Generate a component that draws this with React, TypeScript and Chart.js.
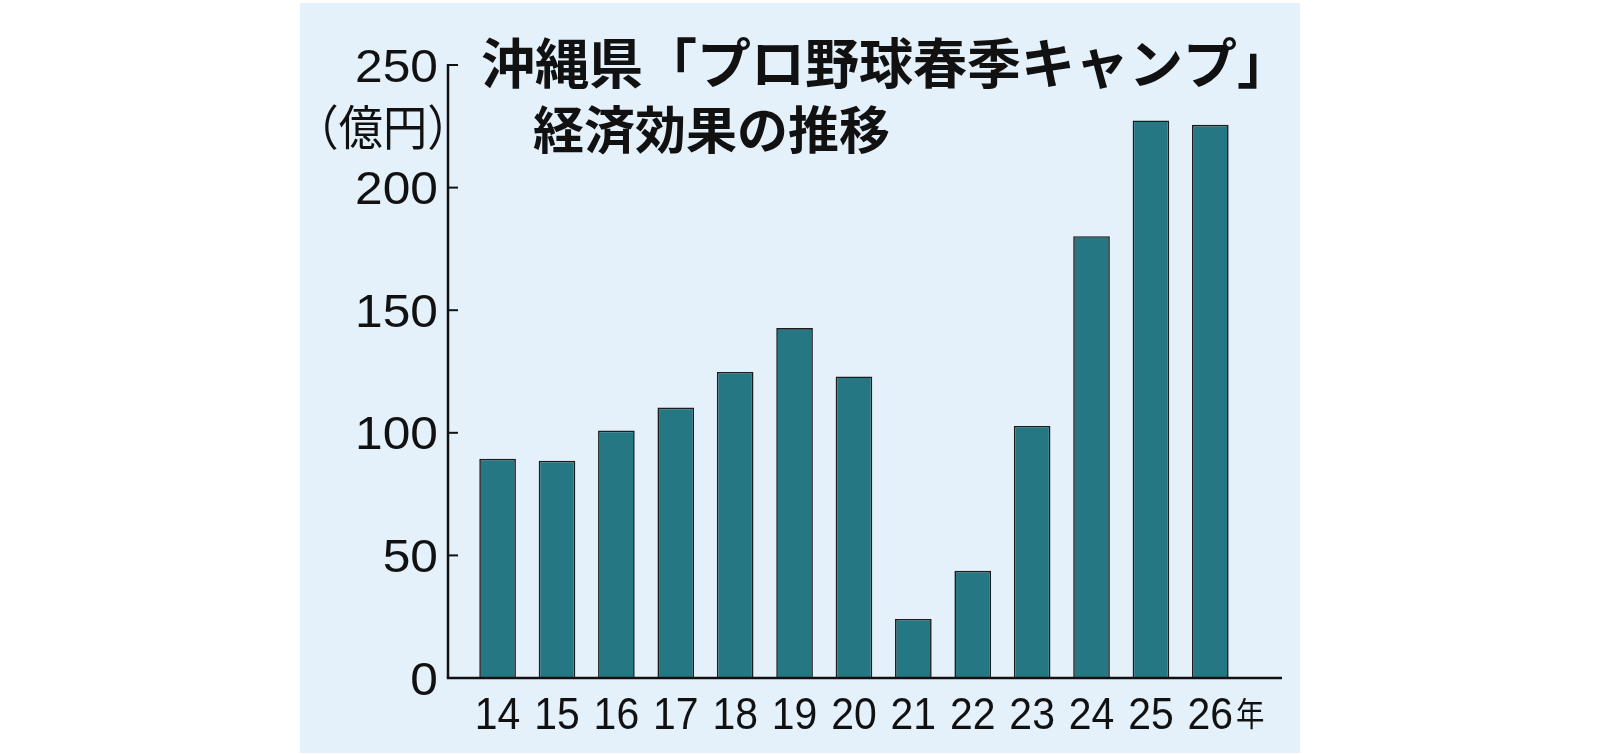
import React, { useEffect, useRef } from 'react';
import { Chart, registerables } from 'chart.js';

Chart.register(...registerables);

// ---- data ----
const years = [14, 15, 16, 17, 18, 19, 20, 21, 22, 23, 24, 25, 26];
const values = [89.4, 88.6, 100.9, 110.3, 124.8, 142.7, 123.0, 24.1, 43.7, 102.8, 180.2, 227.4, 225.6];
const yTicks = [0, 50, 100, 150, 200, 250];
const yearSuffix = '年';
const unitLabel = '（億円）';
const titleLine1 = '沖縄県「プロ野球春季キャンプ」';
const titleLine2 = '経済効果の推移';

const X_MIN = 13.165;
const X_MAX = 27.207;
const Y_MAX = 250;

const PANEL_COLOR = '#E4F1FB';
const BAR_COLOR = '#267784';
const INK = '#111111';

function drawScaledText(
  ctx: CanvasRenderingContext2D,
  text: string,
  x: number,
  y: number,
  align: CanvasTextAlign,
  sx: number
) {
  ctx.save();
  ctx.translate(x, y);
  ctx.scale(sx, 1);
  ctx.textAlign = align;
  ctx.fillText(text, 0, 0);
  ctx.restore();
}

const decorPlugin = {
  id: 'decor',
  beforeDraw(chart: any) {
    const ctx: CanvasRenderingContext2D = chart.ctx;
    ctx.save();
    ctx.fillStyle = '#ffffff';
    ctx.fillRect(0, 0, chart.width, chart.height);
    ctx.fillStyle = PANEL_COLOR;
    ctx.fillRect(300, 3, 1000, 750);
    ctx.restore();
  },
  afterDatasetsDraw(chart: any) {
    const ctx: CanvasRenderingContext2D = chart.ctx;
    const xs = chart.scales.x;
    const ys = chart.scales.y;
    const area = chart.chartArea;
    const axisX = area.left;
    const y0 = ys.getPixelForValue(0);
    const yTop = ys.getPixelForValue(Y_MAX);

    ctx.save();
    ctx.strokeStyle = INK;
    ctx.lineWidth = 2.5;
    ctx.lineCap = 'butt';
    // y axis
    ctx.beginPath();
    ctx.moveTo(axisX, yTop - 1);
    ctx.lineTo(axisX, y0);
    ctx.stroke();
    // x axis
    ctx.beginPath();
    ctx.moveTo(axisX - 1.2, y0);
    ctx.lineTo(area.right, y0);
    ctx.stroke();
    // inward ticks
    ctx.lineWidth = 2;
    yTicks.forEach((t) => {
      if (t === 0) return;
      const py = ys.getPixelForValue(t);
      ctx.beginPath();
      ctx.moveTo(axisX, py);
      ctx.lineTo(axisX + 10, py);
      ctx.stroke();
    });

    // y tick labels
    ctx.fillStyle = INK;
    ctx.font = '46px "Liberation Sans", Arial, sans-serif';
    ctx.textBaseline = 'alphabetic';
    yTicks.forEach((t) => {
      const py = ys.getPixelForValue(t);
      drawScaledText(ctx, String(t), axisX - 10, py + 16.5, 'right', 1.08);
    });

    // x labels
    years.forEach((yr, i) => {
      const px = xs.getPixelForValue(yr);
      ctx.font = '44px "Liberation Sans", Arial, sans-serif';
      drawScaledText(ctx, String(yr), px, 728.5, 'center', 0.93);
      if (i === years.length - 1) {
        const w = ctx.measureText(String(yr)).width * 0.93;
        ctx.font = '33px "Noto Sans CJK JP", sans-serif';
        drawScaledText(ctx, yearSuffix, px + w / 2 + 3, 726, 'left', 0.86);
      }
    });

    // unit label (ink fitted to its box)
    ctx.font = '48px "Noto Sans CJK JP", sans-serif';
    ctx.textBaseline = 'middle';
    ctx.textAlign = 'left';
    const m = ctx.measureText(unitLabel);
    const inkL = m.actualBoundingBoxLeft;
    const inkW = m.actualBoundingBoxLeft + m.actualBoundingBoxRight;
    const su = 116 / inkW;
    ctx.save();
    ctx.translate(325, 127);
    ctx.scale(su, 1);
    ctx.fillText(unitLabel, inkL, 0);
    ctx.restore();

    // title
    ctx.font = 'bold 54px "Noto Sans CJK JP", sans-serif';
    ctx.textBaseline = 'middle';
    ctx.textAlign = 'left';
    ctx.fillText(titleLine1, 481, 63);
    ctx.font = 'bold 51px "Noto Sans CJK JP", sans-serif';
    ctx.fillText(titleLine2, 533, 130);
    ctx.restore();
  },
};

export default function App() {
  const canvasRef = useRef<HTMLCanvasElement | null>(null);

  useEffect(() => {
    const canvas = canvasRef.current;
    if (!canvas) return;
    const chart = new Chart(canvas, {
      type: 'bar',
      data: {
        datasets: [
          {
            data: years.map((x, i) => ({ x, y: values[i] })),
            backgroundColor: BAR_COLOR,
            borderColor: '#1c1c1c',
            borderWidth: 1.6,
            barPercentage: 0.617,
            categoryPercentage: 1,
          },
        ],
      },
      options: {
        responsive: false,
        animation: false,
        devicePixelRatio: 1,
        layout: { padding: { left: 448, right: 318, top: 65, bottom: 76 } },
        plugins: {
          legend: { display: false },
          tooltip: { enabled: false },
          title: { display: false },
        },
        scales: {
          x: {
            type: 'linear',
            display: false,
            min: X_MIN,
            max: X_MAX,
            offset: false,
            ticks: { stepSize: 1, includeBounds: false },
          },
          y: {
            type: 'linear',
            display: false,
            min: 0,
            max: Y_MAX,
          },
        },
      },
      plugins: [decorPlugin],
    });
    return () => chart.destroy();
  }, []);

  return (
    <div style={{ position: 'absolute', left: 0, top: 0, width: 1600, height: 754 }}>
      <canvas ref={canvasRef} width={1600} height={754} style={{ display: 'block' }} />
    </div>
  );
}
